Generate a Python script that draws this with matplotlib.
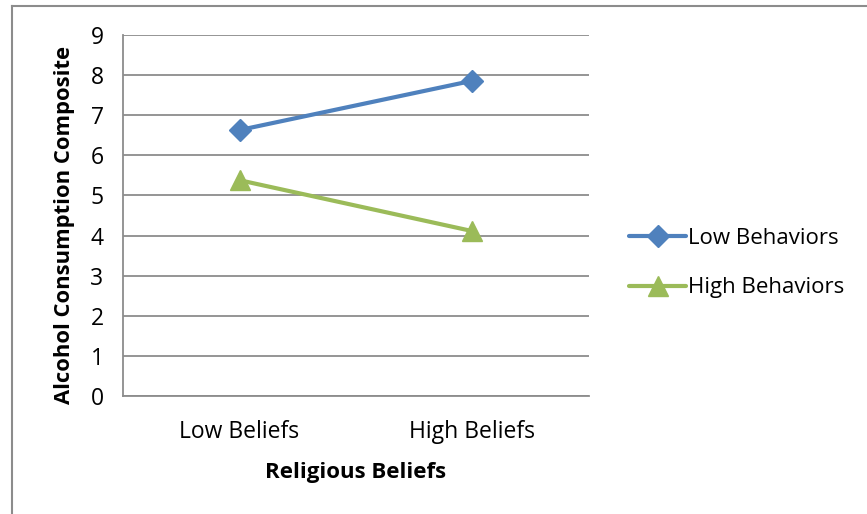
import matplotlib
matplotlib.use("Agg")
import matplotlib.pyplot as plt
from matplotlib.lines import Line2D

plt.rcParams['font.family'] = ['Open Sans', 'DejaVu Sans']

# cell means for the interaction plot
beliefs = ['Low Beliefs', 'High Beliefs']
low_behaviors = [6.63, 7.86]
high_behaviors = [5.38, 4.11]
y_ticks = [0, 1, 2, 3, 4, 5, 6, 7, 8, 9]

blue = '#4F81BD'
green = '#9BBB59'
grid_gray = '#8C8C8C'

W, H = 867, 514
fig = plt.figure(figsize=(W / 100, H / 100), dpi=100)
ax = fig.add_axes([123 / W, 1 - 396 / H, (589 - 123) / W, (396 - 35) / H])

x = range(len(beliefs))
ax.plot(x, low_behaviors, color=blue, lw=3, marker='D', ms=11,
        label='Low Behaviors', solid_capstyle='round', zorder=3)
ax.plot(x, high_behaviors, color=green, lw=3, marker='^', ms=14,
        label='High Behaviors', solid_capstyle='round', zorder=3)

ax.set_xlim(-0.5, 1.5)
ax.set_ylim(0, 9)
ax.set_yticks(y_ticks)
ax.set_xticks(list(x))
ax.set_xticklabels(beliefs)
ax.tick_params(axis='both', length=0, labelsize=16.5, colors='black')
ax.tick_params(axis='y', pad=14)
ax.tick_params(axis='x', pad=17)
ax.yaxis.grid(True, color=grid_gray, lw=1.3)
ax.set_axisbelow(True)
for side in ['top', 'right']:
    ax.spines[side].set_visible(False)
ax.spines['left'].set_color(grid_gray)
ax.spines['bottom'].set_color(grid_gray)
ax.spines['left'].set_linewidth(1.3)
ax.spines['bottom'].set_linewidth(1.3)

ax.set_xlabel('Religious Beliefs', fontsize=16, fontweight='bold', labelpad=13)
ax.set_ylabel('Alcohol Consumption Composite', fontsize=15.8, fontweight='bold')
ax.yaxis.set_label_coords(-0.104, 0.474)

handles = [
    Line2D([], [], color=blue, lw=3, marker='D', ms=11, solid_capstyle='round'),
    Line2D([], [], color=green, lw=3, marker='^', ms=14, solid_capstyle='round'),
]
fig.legend(handles, ['Low Behaviors', 'High Behaviors'], loc='center left',
           bbox_to_anchor=(609 / W, 1 - 263 / H), frameon=False,
           fontsize=16, handlelength=2.57, handletextpad=0.1, labelspacing=1.3)

# chart area border, cut off at the right and bottom edges
fig.add_artist(Line2D([12 / W, 1], [1 - 6 / H, 1 - 6 / H], color='#8C8C8C', lw=1.5))
fig.add_artist(Line2D([12 / W, 12 / W], [0, 1 - 6 / H], color='#8C8C8C', lw=1.5))

fig.savefig('out.png', dpi=100, facecolor='white')
